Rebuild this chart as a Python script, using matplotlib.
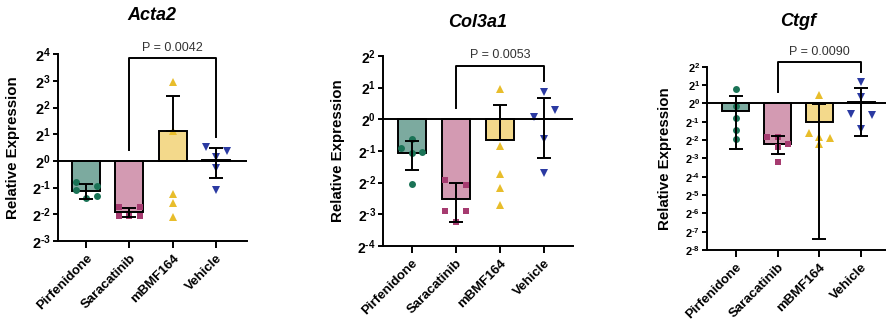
import numpy as np
import matplotlib
matplotlib.use("Agg")
import matplotlib.pyplot as plt

plt.rcParams['font.family'] = ['Liberation Sans', 'DejaVu Sans']
plt.rcParams['mathtext.fontset'] = 'custom'
plt.rcParams['mathtext.rm'] = 'Liberation Sans:bold'
plt.rcParams['mathtext.bf'] = 'Liberation Sans:bold'
plt.rcParams['mathtext.it'] = 'Liberation Sans:bold:italic'
plt.rcParams['mathtext.default'] = 'rm'

groups = ["Pirfenidone", "Saracatinib", "mBMF164", "Vehicle"]

# Per-animal log2 fold change
acta2_pirfenidone = [-0.80, -0.95, -1.10, -1.30, -1.40]
acta2_saracatinib = [-1.72, -1.72, -2.05, -2.05, -2.05]
acta2_mbmf164 = [2.97, 1.13, -1.25, -1.58, -2.11]
acta2_vehicle = [0.51, 0.37, 0.16, -0.25, -1.09]

col3a1_pirfenidone = [-0.63, -0.90, -1.06, -1.03, -2.04]
col3a1_saracatinib = [-1.92, -2.08, -2.88, -2.88, -3.24]
col3a1_mbmf164 = [0.95, -0.85, -1.74, -2.18, -2.69]
col3a1_vehicle = [0.87, 0.08, 0.28, -0.63, -1.69]

ctgf_pirfenidone = [0.76, -0.15, -0.82, -1.46, -1.97]
ctgf_saracatinib = [-1.82, -1.82, -2.22, -2.37, -3.19]
ctgf_mbmf164 = [0.45, -1.64, -1.82, -1.91, -2.22]
ctgf_vehicle = [1.18, 0.36, -0.58, -0.64, -1.42]

# Group mean and SD of relative expression (linear scale)
acta2_mean = [0.46, 0.266, 2.20, 1.03]
acta2_sd = [0.09, 0.03, 3.25, 0.38]
col3a1_mean = [0.479, 0.176, 0.632, 1.011]
col3a1_sd = [0.147, 0.07, 0.74, 0.578]
ctgf_mean = [0.755, 0.217, 0.490, 1.047]
ctgf_sd = [0.577, 0.072, 0.484, 0.76]

p_values = ["0.0042", "0.0053", "0.0090"]
gene_names = ["Acta2", "Col3a1", "Ctgf"]

bar_colors = ["#7caa9f", "#d39ab2", "#f3d98b", "#aab0dc"]
point_colors = ["#1a7356", "#a63b70", "#e8bd2b", "#2b3aa2"]
markers = ["o", "s", "^", "v"]
marker_sizes = [5.0, 5.0, 5.6, 5.6]

W, H = 887, 327
fig = plt.figure(figsize=(W / 100, H / 100), dpi=100)

panels = [
    dict(name=gene_names[0], pts=[acta2_pirfenidone, acta2_saracatinib, acta2_mbmf164, acta2_vehicle],
         mean=acta2_mean, sd=acta2_sd, p=p_values[0],
         box=(57.7, 246.7, 54.3, 241.0), xlim=(-0.653, 3.708), exps=range(-3, 5),
         tick_fs=10.5, title_y=16, ylab_x=13, bracket=(3.86, 0.42, 0.91), p_y=4.22),
    dict(name=gene_names[1], pts=[col3a1_pirfenidone, col3a1_saracatinib, col3a1_mbmf164, col3a1_vehicle],
         mean=col3a1_mean, sd=col3a1_sd, p=p_values[1],
         box=(382.7, 573.3, 56.0, 246.0), xlim=(-0.658, 3.664), exps=range(-4, 3),
         tick_fs=10.0, title_y=22.5, ylab_x=338.3, bracket=(1.68, 0.35, 1.21), p_y=2.03),
    dict(name=gene_names[2], pts=[ctgf_pirfenidone, ctgf_saracatinib, ctgf_mbmf164, ctgf_vehicle],
         mean=ctgf_mean, sd=ctgf_sd, p=p_values[2],
         box=(707.3, 889.7, 66.7, 250.0), xlim=(-0.678, 3.679), exps=range(-8, 3),
         tick_fs=8.0, title_y=21.5, ylab_x=665, bracket=(2.27, 0.63, 1.72), p_y=2.82),
]

LW = 1.4


def swarm_offsets(ax, yvals, row_px=7.5, step_px=10.5):
    """Spread points that share a row sideways, centred on the category."""
    yvals = np.asarray(yvals, dtype=float)
    ypx = ax.transData.transform(np.column_stack([np.zeros(len(yvals)), yvals]))[:, 1]
    order = np.argsort(-ypx, kind="stable")
    rows, cur = [], [order[0]]
    for i in order[1:]:
        if ypx[cur[0]] - ypx[i] < row_px:
            cur.append(i)
        else:
            rows.append(cur)
            cur = [i]
    rows.append(cur)
    offs = np.zeros(len(yvals))
    for row in rows:
        row = sorted(row)
        n = len(row)
        if n % 2:
            slots = [k - n // 2 for k in range(n)]
        else:
            slots = [k for k in range(-(n // 2), n // 2 + 1) if k != 0]
        for i, k in zip(row, slots):
            offs[i] = k * step_px
    x0 = ax.transData.transform([(0, 1)])[0, 0]
    x1 = ax.transData.transform([(1, 1)])[0, 0]
    return offs / (x1 - x0)


def pow2_label(e):
    sign = "\u2010" if e < 0 else ""
    return r"$2^{%s%d}$" % (sign, abs(e))


for pan in panels:
    left, right, top, bottom = pan["box"]
    ax = fig.add_axes([left / W, (H - bottom) / H, (right - left) / W, (bottom - top) / H])
    exps = list(pan["exps"])
    ax.set_yscale("log", base=2)
    ax.set_ylim(2.0 ** exps[0], 2.0 ** exps[-1])
    ax.set_xlim(*pan["xlim"])
    ax.set_yticks([2.0 ** e for e in exps])
    ax.set_yticklabels([pow2_label(e) for e in exps], fontsize=pan["tick_fs"])
    ax.yaxis.set_minor_locator(matplotlib.ticker.NullLocator())
    x = np.arange(len(groups))
    ax.set_xticks(x)
    ax.set_xticklabels(groups, rotation=45, ha="right", rotation_mode="anchor",
                       fontweight="bold", fontsize=9.5)
    for s in ("top", "right"):
        ax.spines[s].set_visible(False)
    for s in ("left", "bottom"):
        ax.spines[s].set_linewidth(LW)
    ax.tick_params(axis="x", length=5, width=LW, pad=3)
    ax.tick_params(axis="y", length=3.5, width=LW, pad=1.5)
    ax.patch.set_alpha(0)

    mean = np.array(pan["mean"])
    sd = np.array(pan["sd"])
    ax.bar(x, mean - 1.0, bottom=1.0, width=0.64, color=bar_colors,
           edgecolor="black", linewidth=LW, zorder=2)
    ax.axhline(1.0, color="black", lw=LW, zorder=4)

    for g in range(len(groups)):
        yv = 2.0 ** np.array(pan["pts"][g])
        dx = swarm_offsets(ax, yv)
        ax.plot(g + dx, yv, linestyle="none", marker=markers[g], ms=marker_sizes[g],
                color=point_colors[g], markeredgewidth=0, zorder=3)

    lower = np.where(sd < mean, sd, 0.0)
    ax.errorbar(x, mean, yerr=[lower, sd], fmt="none", ecolor="black",
                elinewidth=LW, capsize=5, capthick=LW, zorder=5)

    top_y, l_y, r_y = [2.0 ** v for v in pan["bracket"]]
    ax.plot([1, 1, 3, 3], [l_y, top_y, top_y, r_y], color="black", lw=LW,
            clip_on=False, zorder=6)
    ax.text(2, 2.0 ** pan["p_y"], "P = " + pan["p"], ha="center", va="center",
            fontsize=9, color="#333333", clip_on=False)

    cx = (left + right) / 2 / W
    fig.text(cx, 1 - pan["title_y"] / H, pan["name"], ha="center", va="center",
             fontsize=13, fontweight="bold", fontstyle="italic")
    fig.text(pan["ylab_x"] / W, 1 - (top + bottom) / 2 / H, "Relative Expression",
             rotation=90, ha="center", va="center", fontsize=10.8, fontweight="bold")

fig.savefig("out.png", dpi=100, facecolor="white")
